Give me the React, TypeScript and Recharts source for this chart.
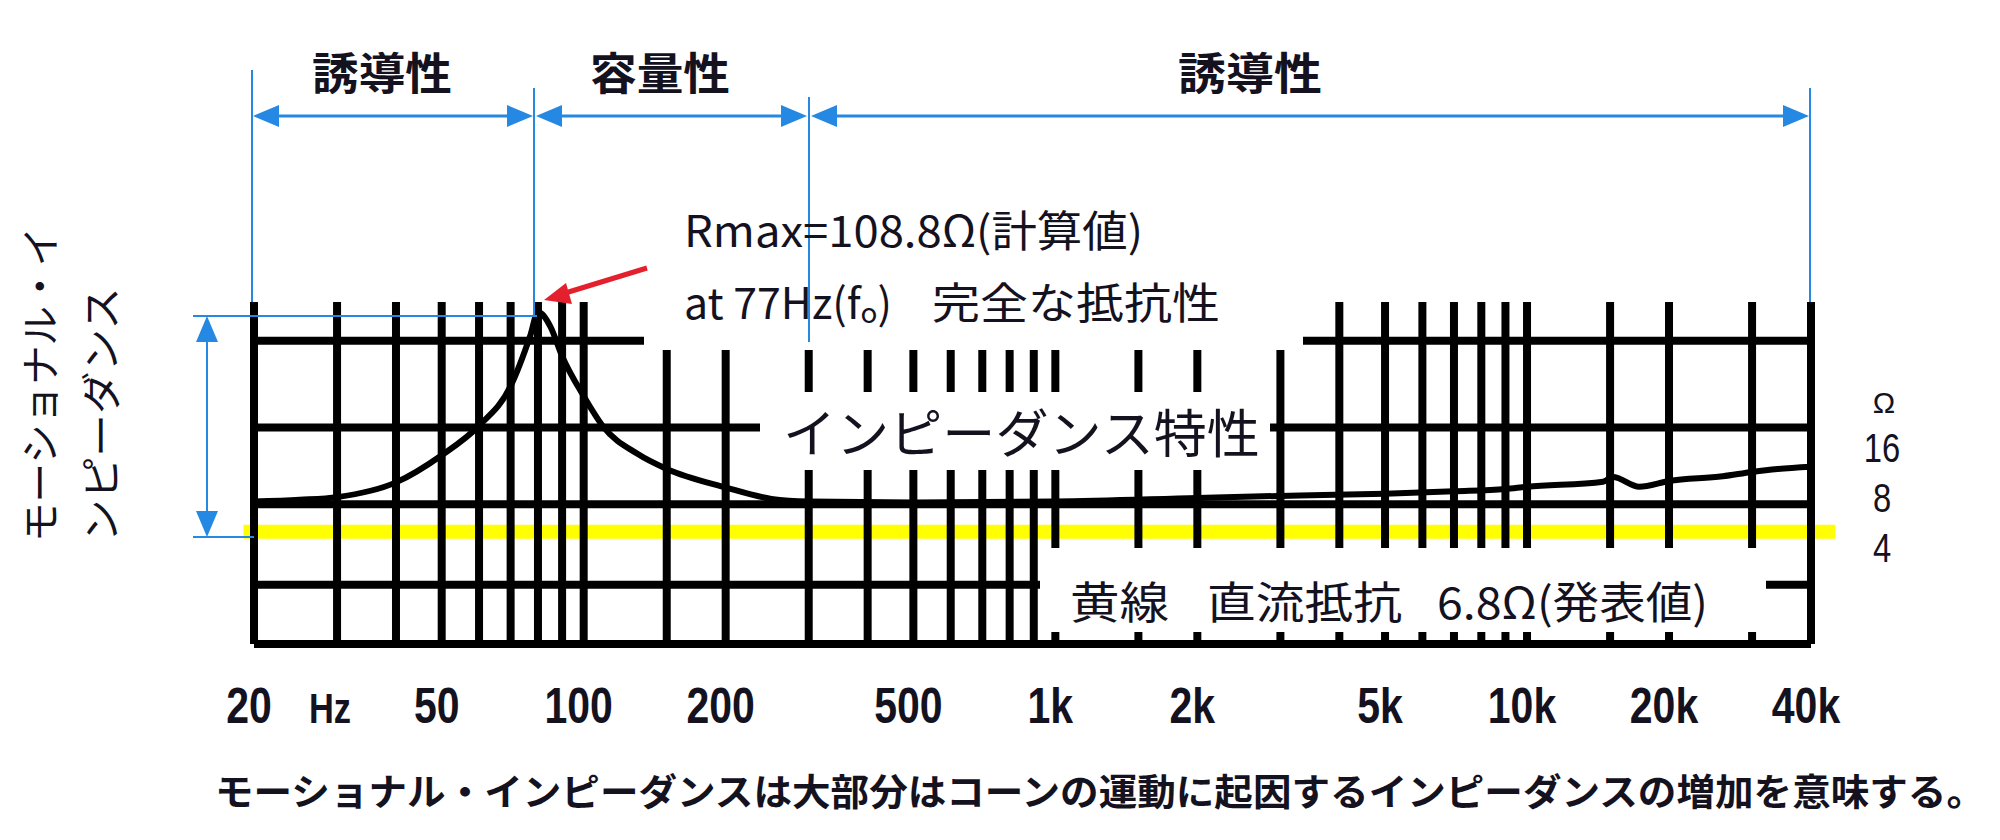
import React from 'react';
import {
  ComposedChart,
  Line,
  XAxis,
  YAxis,
  ReferenceLine
} from 'recharts';

// impedance curve (Hz, Ω)
const FREQ = [20, 25, 30, 40, 50, 60, 70, 77, 80, 85, 90, 100, 110, 130, 150, 200, 250, 300, 500, 1000, 2000, 3300, 5000, 7000, 9000, 10000, 14500, 15200, 17300, 20000, 26000, 30000, 34000, 40000];
const IMPEDANCE = [7.9, 8.1, 8.4, 10.3, 15.0, 22.6, 39, 78, 108.8, 89, 59, 34, 22.3, 15.3, 12.4, 9.6, 8.2, 7.9, 7.8, 7.9, 8.3, 8.6, 8.8, 9.1, 9.4, 9.7, 10.4, 11.1, 9.7, 10.5, 11.2, 11.9, 12.4, 12.8];

// grid of the printed chart paper
const VGRID = [20, 30, 40, 50, 60, 70, 80, 90, 100, 150, 200, 300, 400, 500, 600, 700, 800, 900, 1000, 1500, 2000, 3000, 4000, 5000, 6000, 7000, 8000, 9000, 10000, 15000, 20000, 30000, 40000];
const HGRID = [73, 22, 7.6, 2.5];

const LABEL_FREQS = [20, 50, 100, 200, 500, 1000, 2000, 5000, 10000, 20000, 40000];
const LABEL_TEXTS = ['20', '50', '100', '200', '500', '1k', '2k', '5k', '10k', '20k', '40k'];
const OHM_TICKS = [4, 8, 16];

// yellow marker line (drawn over the scan)
const DC_LINE = [{ x: 19, y: 5.2 }, { x: 45000, y: 5.2 }];

const data = FREQ.map((f, i) => ({ f, z: IMPEDANCE[i] }));

const INK = '#15121f';
const BLUE = '#2589e3';
const RED = '#e5202e';
const FONT_JP = '"Noto Sans CJK JP", "Noto Sans", sans-serif';
const FONT_NUM = '"Liberation Sans", Arial, sans-serif';

const FreqTick = (props: any) => {
  const { x, payload } = props;
  const i = LABEL_FREQS.indexOf(payload.value);
  if (i < 0) return <g />;
  return (
    <text
      transform={`translate(${x - 5},723) scale(0.82,1)`}
      textAnchor="middle"
      fontSize={50}
      fontWeight="bold"
      fontFamily={FONT_NUM}
      fill={INK}
    >
      {LABEL_TEXTS[i]}
    </text>
  );
};

const OhmTick = (props: any) => {
  const { y, payload } = props;
  return (
    <text
      transform={`translate(1882,${y + 11}) scale(0.82,1)`}
      textAnchor="middle"
      fontSize={40}
      fontFamily={FONT_NUM}
      fill={INK}
    >
      {payload.value}
    </text>
  );
};

const HArrow = ({ x1, x2, y }: { x1: number; x2: number; y: number }) => (
  <g fill={BLUE}>
    <line x1={x1 + 20} x2={x2 - 20} y1={y} y2={y} stroke={BLUE} strokeWidth={3} />
    <polygon points={`${x1},${y} ${x1 + 26},${y - 11} ${x1 + 26},${y + 11}`} />
    <polygon points={`${x2},${y} ${x2 - 26},${y - 11} ${x2 - 26},${y + 11}`} />
  </g>
);

const Overlay = () => (
  <svg
    width={2000}
    height={840}
    style={{ position: 'absolute', left: 0, top: 0, pointerEvents: 'none' }}
  >
    {/* white paste-over boxes */}
    <rect x={644} y={180} width={659} height={170} fill="#fff" />
    <rect x={760} y={392} width={510} height={78} fill="#fff" />
    <rect x={1040} y={548} width={726} height={84} fill="#fff" />

    {/* region labels */}
    <g fontFamily={FONT_JP} fontWeight="bold" fontSize={44} fill={INK}>
      <text x={312} y={90} textLength={140} lengthAdjust="spacingAndGlyphs">誘導性</text>
      <text x={590} y={90} textLength={140} lengthAdjust="spacingAndGlyphs">容量性</text>
      <text x={1178} y={90} textLength={144} lengthAdjust="spacingAndGlyphs">誘導性</text>
    </g>

    {/* blue range guides */}
    <g stroke={BLUE} strokeWidth={2}>
      <line x1={252} x2={252} y1={70} y2={302} />
      <line x1={534} x2={534} y1={88} y2={316} />
      <line x1={809} x2={809} y1={97} y2={342} />
      <line x1={1810} x2={1810} y1={88} y2={302} />
      <line x1={193} x2={537} y1={316} y2={316} />
      <line x1={193} x2={254} y1={537} y2={537} />
      <line x1={207} x2={207} y1={336} y2={517} />
    </g>
    <HArrow x1={253} x2={533} y={116} />
    <HArrow x1={536} x2={807} y={116} />
    <HArrow x1={811} x2={1809} y={116} />
    <polygon points="207,316 196,342 218,342" fill={BLUE} />
    <polygon points="207,537 196,511 218,511" fill={BLUE} />

    {/* peak annotation */}
    <g fontFamily={FONT_JP} fontSize={43} fill={INK}>
      <text x={684} y={247} textLength={459} lengthAdjust="spacingAndGlyphs">Rmax=108.8Ω(計算値)</text>
      <text x={684} y={319} textLength={208} lengthAdjust="spacingAndGlyphs">
        at 77Hz(f<tspan fontSize={28} dy={4}>o</tspan><tspan dy={-4}>)</tspan>
      </text>
      <text x={932} y={319} textLength={288} lengthAdjust="spacingAndGlyphs">完全な抵抗性</text>
    </g>
    <line x1={647} y1={268} x2={562} y2={294} stroke={RED} strokeWidth={5} />
    <polygon points="544,300 566,283 572,304" fill={RED} />

    {/* curve name */}
    <text x={783} y={453} fontFamily={FONT_JP} fontSize={52} fill={INK} textLength={477} lengthAdjust="spacingAndGlyphs">
      インピーダンス特性
    </text>

    {/* DC resistance note */}
    <g fontFamily={FONT_JP} fontSize={44} fill={INK}>
      <text x={1070} y={619} textLength={99} lengthAdjust="spacingAndGlyphs">黄線</text>
      <text x={1207} y={619} textLength={195} lengthAdjust="spacingAndGlyphs">直流抵抗</text>
      <text x={1437} y={619} textLength={271} lengthAdjust="spacingAndGlyphs">6.8Ω(発表値)</text>
    </g>

    {/* unit labels */}
    <text transform="translate(330,723) scale(0.82,1)" textAnchor="middle" fontSize={42} fontWeight="bold" fontFamily={FONT_NUM} fill={INK}>Hz</text>
    <text x={1884} y={413} textAnchor="middle" fontSize={30} fontFamily={FONT_NUM} fill={INK}>Ω</text>

    {/* vertical axis title */}
    <g fontFamily={FONT_JP} fontSize={40} fill={INK}>
      <text transform="translate(55,542) rotate(-90)" textLength={315} lengthAdjust="spacingAndGlyphs">モーショナル・イ</text>
      <text transform="translate(116,542) rotate(-90)" textLength={255} lengthAdjust="spacingAndGlyphs">ンピーダンス</text>
    </g>

    {/* caption */}
    <text x={215} y={806} fontFamily={FONT_JP} fontWeight="bold" fontSize={37} fill={INK} textLength={1770} lengthAdjust="spacingAndGlyphs">
      モーショナル・インピーダンスは大部分はコーンの運動に起因するインピーダンスの増加を意味する。
    </text>
  </svg>
);

export default function App() {
  return (
    <div style={{ position: 'absolute', left: 0, top: 0, width: 2000, height: 840, background: '#fff' }}>
      <ComposedChart
        width={2000}
        height={840}
        data={data}
        margin={{ top: 302, right: 89, bottom: 116, left: 254 }}
      >
        <XAxis
          dataKey="f"
          type="number"
          scale="log"
          domain={[20, 40000]}
          ticks={VGRID}
          interval={0}
          tick={FreqTick}
          tickLine={false}
          axisLine={{ stroke: '#000', strokeWidth: 8 }}
          height={80}
          allowDataOverflow
        />
        <YAxis
          orientation="right"
          type="number"
          scale="log"
          domain={[1.1, 125]}
          ticks={OHM_TICKS}
          tick={OhmTick}
          tickLine={false}
          axisLine={false}
          width={100}
          allowDataOverflow
        />
        <ReferenceLine segment={DC_LINE} stroke="#ffff00" strokeWidth={14} ifOverflow="visible" />
        {VGRID.map(f => (
          <ReferenceLine key={'v' + f} x={f} stroke="#000" strokeWidth={8} ifOverflow="visible" />
        ))}
        {HGRID.map(z => (
          <ReferenceLine key={'h' + z} y={z} stroke="#000" strokeWidth={8} ifOverflow="visible" />
        ))}
        <Line
          dataKey="z"
          type="monotone"
          stroke="#000"
          strokeWidth={6}
          dot={false}
          isAnimationActive={false}
        />
      </ComposedChart>
      <Overlay />
    </div>
  );
}
